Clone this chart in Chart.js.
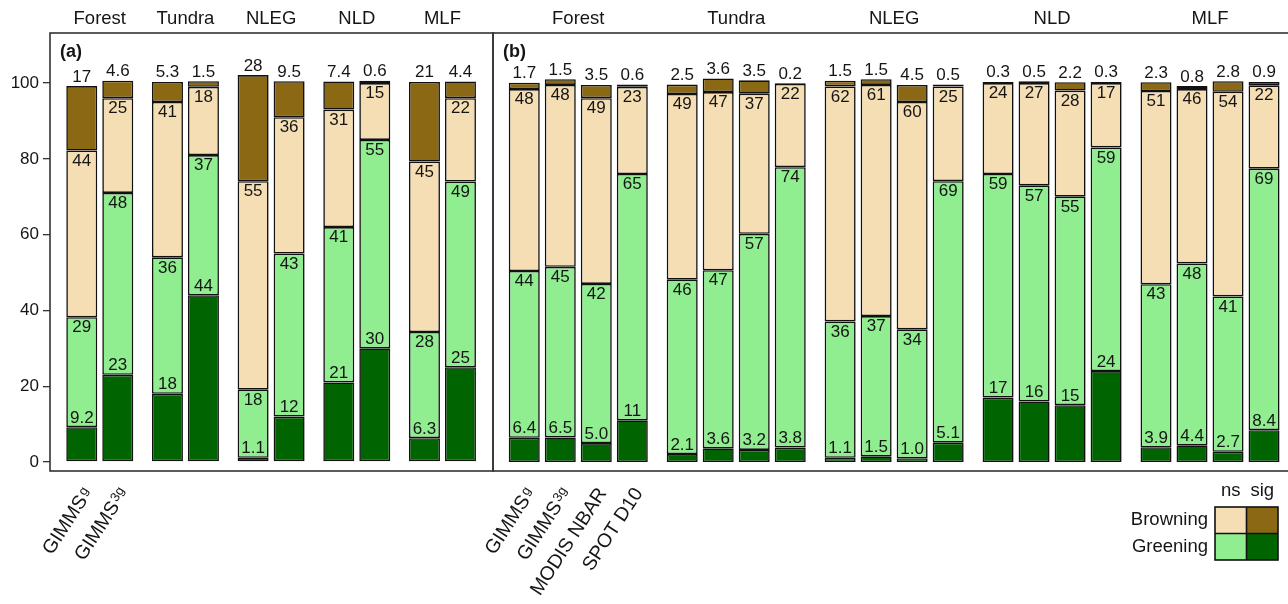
<!DOCTYPE html>
<html>
<head>
<meta charset="utf-8">
<script src="https://cdn.jsdelivr.net/npm/chart.js@4.4.0/dist/chart.umd.min.js"></script>
<style>
  html, body { margin: 0; padding: 0; background: #fff; overflow: hidden; }
  #chartA { position: absolute; left: 0; top: 0; }
  #chartB { position: absolute; left: 440px; top: 0; }
</style>
</head>
<body>
<canvas id="chartA" width="498" height="604"></canvas>
<canvas id="chartB" width="851" height="604"></canvas>
<script>
const groups = ['Forest', 'Tundra', 'NLEG', 'NLD', 'MLF']
const yTicks = [0, 20, 40, 60, 80, 100]

// panel (a), values per group in the order above
const aG_greenSig = [9.2, 18, 1.1, 21, 6.3]
const aG_greenNs = [29, 36, 18, 41, 28]
const aG_brownNs = [44, 41, 55, 31, 45]
const aG_brownSig = [17, 5.3, 28, 7.4, 21]

const a3g_greenSig = [23, 44, 12, 30, 25]
const a3g_greenNs = [48, 37, 43, 55, 49]
const a3g_brownNs = [25, 18, 36, 15, 22]
const a3g_brownSig = [4.6, 1.5, 9.5, 0.6, 4.4]

// panel (b)
const bG_greenSig = [6.4, 2.1, 1.1, 17, 3.9]
const bG_greenNs = [44, 46, 36, 59, 43]
const bG_brownNs = [48, 49, 62, 24, 51]
const bG_brownSig = [1.7, 2.5, 1.5, 0.3, 2.3]

const b3g_greenSig = [6.5, 3.6, 1.5, 16, 4.4]
const b3g_greenNs = [45, 47, 37, 57, 48]
const b3g_brownNs = [48, 47, 61, 27, 46]
const b3g_brownSig = [1.5, 3.6, 1.5, 0.5, 0.8]

const bModis_greenSig = [5.0, 3.2, 1.0, 15, 2.7]
const bModis_greenNs = [42, 57, 34, 55, 41]
const bModis_brownNs = [49, 37, 60, 28, 54]
const bModis_brownSig = [3.5, 3.5, 4.5, 2.2, 2.8]

const bSpot_greenSig = [11, 3.8, 5.1, 24, 8.4]
const bSpot_greenNs = [65, 74, 69, 59, 69]
const bSpot_brownNs = [23, 22, 25, 17, 22]
const bSpot_brownSig = [0.6, 0.2, 0.5, 0.3, 0.9]

const productsA = [
    { name: 'GIMMS', sub: 'g', values: [aG_greenSig, aG_greenNs, aG_brownNs, aG_brownSig] },
    { name: 'GIMMS', sub: '3g', values: [a3g_greenSig, a3g_greenNs, a3g_brownNs, a3g_brownSig] }
]
const productsB = [
    { name: 'GIMMS', sub: 'g', values: [bG_greenSig, bG_greenNs, bG_brownNs, bG_brownSig] },
    { name: 'GIMMS', sub: '3g', values: [b3g_greenSig, b3g_greenNs, b3g_brownNs, b3g_brownSig] },
    { name: 'MODIS NBAR', sub: '', values: [bModis_greenSig, bModis_greenNs, bModis_brownNs, bModis_brownSig] },
    { name: 'SPOT D10', sub: '', values: [bSpot_greenSig, bSpot_greenNs, bSpot_brownNs, bSpot_brownSig] }
]

// greening sig, greening ns, browning ns, browning sig
const classColors = ['#006400', '#90EE90', '#F5DEB3', '#8B6914']
const FONT = "'Liberation Sans', Arial, sans-serif"
const INK = '#151515'

const fmt = (v) => v < 10 ? v.toFixed(1) : String(Math.round(v))

const buildDatasets = (products) => {
    let datasets = []
    products.forEach((p, pi) => {
        p.values.forEach((arr, ci) => {
            datasets.push({
                label: p.name + p.sub + ' ' + ci,
                data: arr.map((v, i) => ({ x: i, y: v })),
                stack: 'p' + pi,
                backgroundColor: classColors[ci],
                borderColor: '#111',
                borderWidth: 1.6,
                borderSkipped: false
            })
        })
    })
    return datasets
}

const framePlugin = {
    id: 'frame',
    afterDatasetsDraw(chart) {
        const a = chart.chartArea
        const ctx = chart.ctx
        ctx.save()
        ctx.strokeStyle = '#333'
        ctx.lineWidth = 1.6
        ctx.strokeRect(a.left, a.top, a.right - a.left, a.bottom - a.top)
        ctx.fillStyle = INK
        ctx.font = 'bold 18px ' + FONT
        ctx.textAlign = 'left'
        ctx.textBaseline = 'middle'
        ctx.fillText(chart.options.plugins.frame.tag, a.left + 10, a.top + 19)
        ctx.restore()
    }
}

const valueLabels = {
    id: 'valueLabels',
    afterDatasetsDraw(chart) {
        const ctx = chart.ctx
        ctx.save()
        ctx.fillStyle = INK
        ctx.font = '17px ' + FONT
        ctx.textAlign = 'center'
        chart.data.datasets.forEach((ds, di) => {
            const ci = di % 4
            chart.getDatasetMeta(di).data.forEach((el, i) => {
                const txt = fmt(ds.data[i].y)
                if (ci === 0 || ci === 3) {
                    ctx.textBaseline = 'alphabetic'
                    ctx.fillText(txt, el.x, el.y - 4.5)
                } else {
                    ctx.textBaseline = 'top'
                    ctx.fillText(txt, el.x, el.y + 2)
                }
            })
        })
        ctx.restore()
    }
}

const productLabels = {
    id: 'productLabels',
    afterDraw(chart) {
        const products = chart.options.plugins.productLabels.products
        const ctx = chart.ctx
        ctx.save()
        ctx.fillStyle = INK
        products.forEach((p, pi) => {
            const el = chart.getDatasetMeta(pi * 4).data[0]
            ctx.save()
            ctx.translate(el.x + 11, chart.chartArea.bottom + 22)
            ctx.rotate(-57 * Math.PI / 180)
            ctx.textBaseline = 'alphabetic'
            ctx.font = '13px ' + FONT
            const subW = ctx.measureText(p.sub).width
            ctx.textAlign = 'left'
            ctx.fillText(p.sub, -subW, -5)
            ctx.font = '19.5px ' + FONT
            ctx.textAlign = 'right'
            ctx.fillText(p.name, -subW - (p.sub ? 1.5 : 0), 0)
            ctx.restore()
        })
        ctx.restore()
    }
}

const legendBox = {
    id: 'legendBox',
    afterDraw(chart) {
        if (!chart.options.plugins.legendBox.show) return
        const ctx = chart.ctx
        const x0 = chart.chartArea.right - 74, y0 = chart.chartArea.bottom + 36
        const w = 31.5, h = 26.5
        ctx.save()
        ctx.font = '18.5px ' + FONT
        ctx.fillStyle = INK
        ctx.textAlign = 'center'
        ctx.textBaseline = 'middle'
        ctx.fillText('ns', x0 + w / 2, y0 - 16)
        ctx.fillText('sig', x0 + w * 1.5, y0 - 16)
        ctx.textAlign = 'right'
        ctx.fillText('Browning', x0 - 7, y0 + h / 2)
        ctx.fillText('Greening', x0 - 7, y0 + h * 1.5)
        const cells = [[2, 3], [1, 0]]
        cells.forEach((row, r) => {
            row.forEach((ci, c) => {
                ctx.fillStyle = classColors[ci]
                ctx.fillRect(x0 + c * w, y0 + r * h, w, h)
            })
        })
        ctx.strokeStyle = '#111'
        ctx.lineWidth = 1.6
        ctx.strokeRect(x0, y0, 2 * w, 2 * h)
        ctx.beginPath()
        ctx.moveTo(x0 + w, y0); ctx.lineTo(x0 + w, y0 + 2 * h)
        ctx.moveTo(x0, y0 + h); ctx.lineTo(x0 + 2 * w, y0 + h)
        ctx.stroke()
        ctx.restore()
    }
}

const makeChart = (id, products, opts) => {
    const ctx = document.getElementById(id).getContext('2d')
    return new Chart(ctx, {
        type: 'bar',
        data: { datasets: buildDatasets(products) },
        options: {
            responsive: false,
            animation: false,
            categoryPercentage: opts.catPct,
            barPercentage: 0.861,
            layout: { padding: opts.padding },
            plugins: {
                legend: { display: false },
                tooltip: { enabled: false },
                frame: { tag: opts.tag },
                productLabels: { products: products },
                legendBox: { show: opts.legend }
            },
            scales: {
                x: {
                    type: 'linear',
                    position: 'top',
                    offset: false,
                    min: opts.xMin,
                    max: opts.xMax,
                    stacked: true,
                    afterBuildTicks: (s) => { s.ticks = groups.map((g, i) => ({ value: i })) },
                    afterFit: (s) => { s.height = 33 },
                    grid: { display: false },
                    border: { display: false },
                    ticks: {
                        callback: (v) => groups[v],
                        font: { family: FONT, size: 18.5 },
                        color: INK,
                        padding: -5,
                        maxRotation: 0,
                        autoSkip: false
                    }
                },
                y: {
                    display: opts.showY,
                    min: -2.37,
                    max: 113.2,
                    stacked: true,
                    afterBuildTicks: (s) => { s.ticks = yTicks.map(v => ({ value: v })) },
                    afterFit: (s) => { s.width = opts.showY ? 50 : 0 },
                    grid: { drawOnChartArea: false, drawTicks: true, tickLength: 7, color: '#333', lineWidth: 1.3 },
                    border: { display: false },
                    ticks: { font: { family: FONT, size: 17 }, color: INK, padding: 4 }
                }
            }
        },
        plugins: [framePlugin, valueLabels, productLabels, legendBox]
    })
}

makeChart('chartA', productsA, {
    tag: '(a)', catPct: 0.8405, xMin: -0.581, xMax: 4.59, showY: true, legend: false,
    padding: { left: 0, right: 5, top: 0, bottom: 133 }
})
makeChart('chartB', productsB, {
    tag: '(b)', catPct: 0.912, xMin: -0.54, xMax: 4.5, showY: false, legend: true,
    padding: { left: 53, right: 2, top: 0, bottom: 133 }
})
</script>
</body>
</html>
